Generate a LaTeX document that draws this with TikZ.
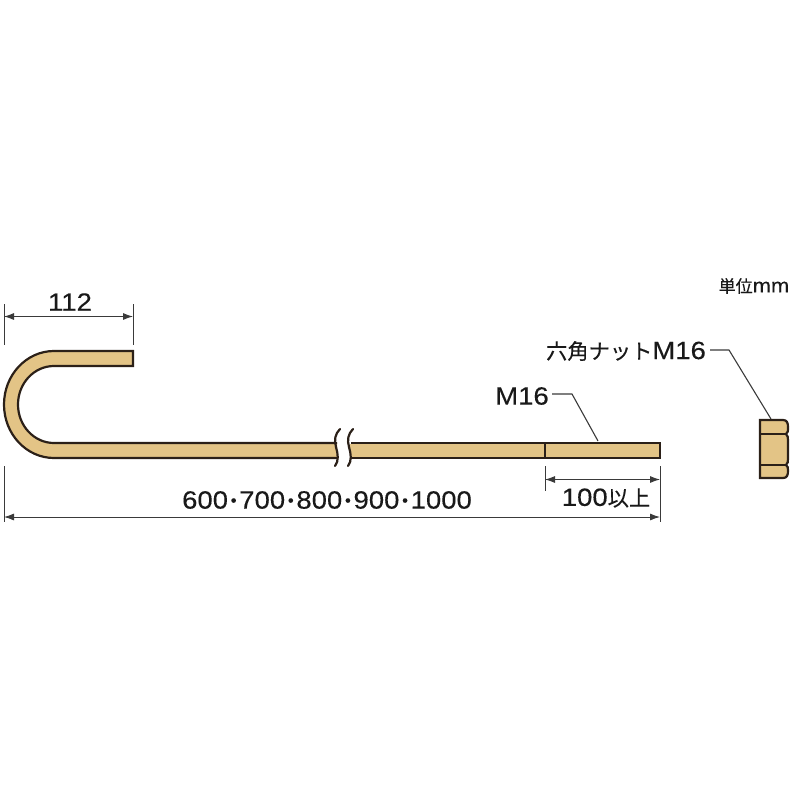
\documentclass[tikz,border=0pt]{standalone}
\usepackage{fontspec}
\setmainfont[FakeStretch=1.1,FakeBold=0.25]{Liberation Sans}
\newfontfamily\cjk[Scale=0.85,FakeBold=0.25]{Noto Sans CJK JP}
\usetikzlibrary{arrows.meta}
\definecolor{bolttan}{HTML}{E3C486}
\definecolor{boltline}{HTML}{2B2018}
\definecolor{dimline}{HTML}{3A3A3A}
\newcommand{\sepdot}{\kern-5pt{\cjk ・}\kern-5pt}
\begin{document}
\begin{tikzpicture}[x=1pt,y=-1pt,
  label/.style={inner sep=0pt,text=black!90,font=\fontsize{25}{25}\selectfont},
  dim/.style={draw=dimline,line width=0.9pt},
  dimarrow/.style={dim,{Latex[length=10pt,width=7pt]}-{Latex[length=10pt,width=7pt]}},
  outline/.style={draw=boltline,line width=2.2pt},
  leader/.style={draw=dimline,line width=1.1pt}]
\useasboundingbox (0,0) rectangle (800,800);
% bolt
\fill[bolttan] (133,351) -- (54,351) arc[start angle=270,end angle=90,x radius=50,y radius=53.5] -- (337,458) -- (337,443) -- (54,443) arc[start angle=90,end angle=270,x radius=36,y radius=38.5] -- (133,366) -- cycle;
\draw[outline] (337,458) -- (54,458) arc[start angle=90,end angle=270,x radius=50,y radius=53.5] -- (133,351) -- (133,366) -- (54,366) arc[start angle=270,end angle=90,x radius=36,y radius=38.5] -- (337,443);
\filldraw[fill=bolttan,outline] (351,443) -- (660,443) -- (660,458) -- (351,458);
\fill[bolttan] (350,444) rectangle (356,457);
\draw[outline] (545,443) -- (545,458);
% break
\draw[boltline,line width=2.2pt,line cap=round] (340,429) .. controls (335,434) and (334,440) .. (336,447) .. controls (338,454) and (339,461) .. (335,466);
\draw[boltline,line width=2.2pt,line cap=round] (353,429) .. controls (348,434) and (347,440) .. (349,447) .. controls (351,454) and (352,461) .. (348,466);
% nut
\filldraw[fill=bolttan,outline] (760,420) -- (783,420) .. controls (787,420) and (788,423) .. (788,427) .. controls (788,431) and (788,433) .. (786,434) .. controls (788,435) and (788,438) .. (788,441) -- (788,458) .. controls (788,461) and (788,464) .. (786,465) .. controls (788,466) and (788,468) .. (788,471) .. controls (788,475) and (787,478) .. (783,478) -- (760,478) -- cycle;
\draw[outline] (760,434) -- (786,434);
\draw[outline] (760,465) -- (786,465);
% texts
\node[label] (size112) at (70,302) {112};
\node[label] (sizelength) at (327,500) {600\sepdot 700\sepdot 800\sepdot 900\sepdot 1000};
\node[label] (size100) at (606,498) {100{\cjk 以上}};
\node[label] (boltname) at (522,396) {M16};
\node[label] (nutname) at (626,351) {{\cjk 六角ナット}M16};
\node[label,font=\fontsize{20}{20}\selectfont] (unitname) at (754,286) {{\cjk 単位}mm};
% dimensions
\coordinate (a1) at (4,304); \coordinate (a2) at (4,345);
\coordinate (b1) at (133,304); \coordinate (b2) at (133,345);
\coordinate (c1) at (4,466); \coordinate (c2) at (4,522);
\coordinate (d1) at (660,466); \coordinate (d2) at (660,522);
\coordinate (e1) at (545,466); \coordinate (e2) at (545,491);
\draw[dim] (a1) -- (a2);
\draw[dim] (b1) -- (b2);
\draw[dim] (c1) -- (c2);
\draw[dim] (d1) -- (d2);
\draw[dim] (e1) -- (e2);
\draw[dimarrow] (4,316.5) -- (133,316.5);
\draw[dimarrow] (4,517) -- (660,517);
\draw[dimarrow] (545,479.5) -- (660,479.5);
% leaders
\coordinate (m1) at (552,394); \coordinate (m2) at (572,394); \coordinate (m3) at (598,441);
\coordinate (n1) at (710,350); \coordinate (n2) at (729,350); \coordinate (n3) at (771,419);
\draw[leader] (m1) -- (m2) -- (m3);
\draw[leader] (n1) -- (n2) -- (n3);
\end{tikzpicture}
\end{document}
